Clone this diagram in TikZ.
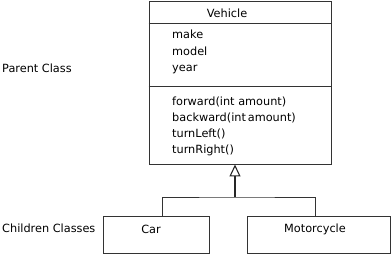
\documentclass[tikz,border=0pt]{standalone}
\usepackage{fontspec}
\setmainfont{DejaVu Sans}
\usetikzlibrary{arrows.meta}
\begin{document}
\begin{tikzpicture}[x=1pt,y=-1pt,
  lbl/.style={font=\fontsize{11.3}{13}\selectfont, inner sep=0pt, anchor=base west},
  ctr/.style={font=\fontsize{11.3}{13}\selectfont, inner sep=0pt, anchor=base},
  box/.style={draw=black!80, line width=0.9pt, rectangle, inner sep=0pt},
  link/.style={draw=black!80, line width=0.9pt}]
\useasboundingbox (0,0) rectangle (392,255);
% parent class box
\node[box, minimum width=182pt, minimum height=163pt] (veh) at (240,82.5) {};
\draw[link] (veh.west |- 0,23.5) coordinate (d1a) -- (veh.east |- 0,23.5) coordinate (d1b);
\draw[link] (veh.west |- 0,86.5) coordinate (d2a) -- (veh.east |- 0,86.5) coordinate (d2b);
\node[ctr] (vname) at (227,17) {Vehicle};
\node[lbl] (a1) at (172,38.5) {make};
\node[lbl] (a2) at (172,55) {model};
\node[lbl] (a3) at (172,71.5) {year};
\node[lbl] (m1) at (172,105) {forward(int amount)};
\node[lbl] (m2) at (172,121) {backward(int\,amount)};
\node[lbl] (m3) at (172,137) {turnLeft()};
\node[lbl] (m4) at (172,153) {turnRight()};
% children
\node[box, minimum width=106pt, minimum height=37pt] (car) at (156,234.5) {};
\node[box, minimum width=143pt, minimum height=37pt] (moto) at (318.5,234.5) {};
\node[ctr] (cart) at (151,233) {Car};
\node[ctr] (motot) at (315,232) {Motorcycle};
% side labels
\node[lbl] (pc) at (2,72) {Parent Class};
\node[lbl] (cc) at (2,232) {Children Classes};
% connectors
\coordinate (j) at (235,197);
\draw[link] ([xshift=6pt]car.north) |- (j) -| ([xshift=-3.5pt]moto.north);
\draw[line width=1.8pt, black!85, -{Triangle[open, length=12pt, width=11pt, line width=1.1pt]}] (j) -- (j |- veh.south);
\end{tikzpicture}
\end{document}
